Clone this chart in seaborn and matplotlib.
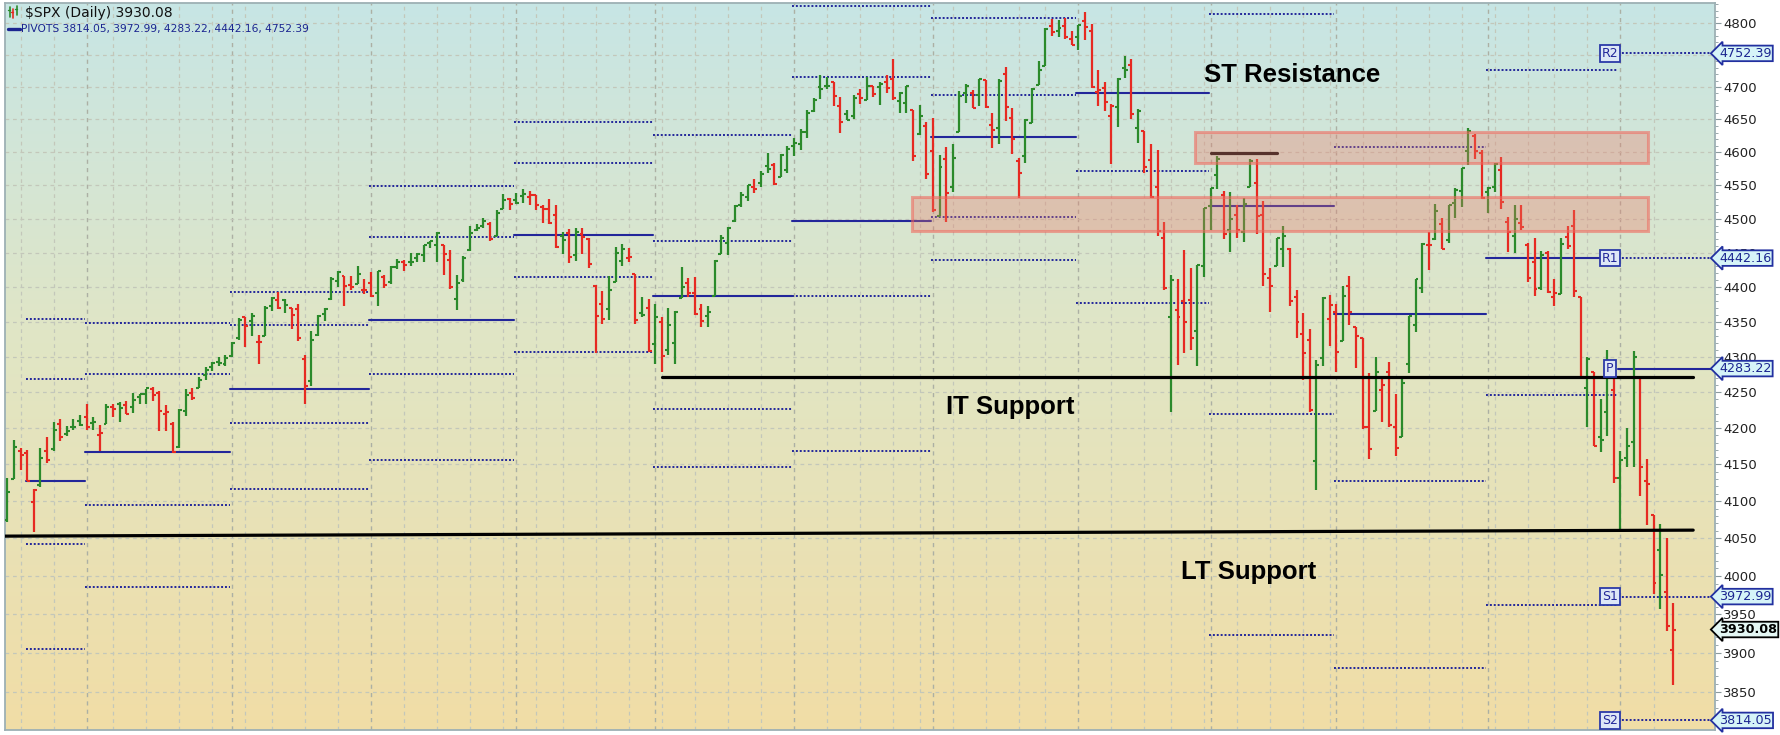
import numpy as np
import pandas as pd
import matplotlib
matplotlib.use("Agg")
import matplotlib.pyplot as plt
import seaborn as sns
from matplotlib.patches import Rectangle
from matplotlib.lines import Line2D
from matplotlib.ticker import FixedLocator, FuncFormatter, NullFormatter
from matplotlib.transforms import blended_transform_factory

# trading days shown on the chart (13 May 2021 .. 12 May 2022)
holidays = ["2021-05-31", "2021-07-05", "2021-09-06", "2021-11-25",
            "2021-12-24", "2022-01-17", "2022-02-21", "2022-04-15"]
dates = pd.bdate_range("2021-05-13", "2022-05-12")
dates = dates[~dates.isin(pd.to_datetime(holidays))]

prev_close = 4063.0  # close before the first bar, sets the first bar colour

# daily OHLC, one line per month
opens = [
    4074, 4130, 4169, 4166, 4099, 4122, 4168, 4171, 4205, 4192, 4201, 4210,
    4216, 4207, 4191, 4206, 4229, 4233, 4232, 4229, 4243, 4248, 4255, 4249, 4220, 4205, 4174, 4224, 4249, 4256, 4274, 4285, 4293, 4290,
    4301, 4326, 4356, 4351, 4321, 4330, 4372, 4381, 4381, 4369, 4368, 4297, 4266, 4331, 4361, 4382, 4409, 4416, 4403, 4404, 4395,
    4406, 4392, 4415, 4408, 4429, 4437, 4436, 4442, 4447, 4464, 4462, 4462, 4440, 4382, 4410, 4454, 4484, 4490, 4493, 4474, 4514, 4529,
    4528, 4534, 4532, 4535, 4518, 4514, 4506, 4474, 4479, 4447, 4477, 4470, 4402, 4375, 4368, 4407, 4438, 4443, 4419, 4363, 4370,
    4318, 4349, 4310, 4319, 4384, 4406, 4391, 4368, 4358, 4387, 4448, 4464, 4497, 4520, 4532, 4547, 4553, 4579, 4580, 4563, 4573,
    4610, 4613, 4631, 4663, 4700, 4701, 4707, 4670, 4659, 4655, 4689, 4680, 4701, 4700, 4708, 4713, 4679, 4675, 4664, 4628, 4640,
    4602, 4504, 4589, 4548, 4631, 4690, 4691, 4687, 4711, 4642, 4637, 4720, 4652, 4587, 4594, 4645, 4703, 4733, 4796, 4788, 4795, 4775,
    4778, 4804, 4787, 4693, 4698, 4655, 4669, 4729, 4734, 4637, 4632, 4588, 4547, 4471, 4357, 4367, 4380, 4381, 4337, 4431,
    4519, 4566, 4536, 4483, 4505, 4480, 4548, 4553, 4506, 4413, 4430, 4455, 4456, 4385, 4332, 4324, 4155, 4298, 4354,
    4364, 4322, 4401, 4343, 4327, 4202, 4224, 4253, 4279, 4202, 4188, 4289, 4345, 4398, 4462, 4470, 4493, 4469, 4523, 4541, 4602, 4624, 4599,
    4540, 4548, 4573, 4495, 4475, 4494, 4462, 4437, 4398, 4449, 4385, 4390, 4473, 4490, 4385, 4256, 4279, 4187, 4223, 4253,
    4131, 4159, 4181, 4270, 4128, 4081, 4035, 3979, 3903,
]
highs = [
    4131, 4183, 4172, 4170, 4117, 4172, 4188, 4209, 4213, 4203, 4213, 4218,
    4234, 4216, 4204, 4233, 4233, 4236, 4238, 4249, 4248, 4255, 4257, 4251, 4232, 4208, 4226, 4255, 4256, 4271, 4286, 4293, 4300, 4302,
    4321, 4355, 4356, 4362, 4331, 4372, 4386, 4393, 4383, 4369, 4376, 4302, 4337, 4360, 4370, 4415, 4423, 4416, 4416, 4430, 4412,
    4422, 4423, 4417, 4430, 4441, 4439, 4449, 4449, 4461, 4468, 4480, 4462, 4454, 4418, 4445, 4489, 4492, 4502, 4495, 4513, 4537, 4531,
    4538, 4545, 4542, 4536, 4521, 4529, 4521, 4481, 4485, 4487, 4486, 4471, 4403, 4394, 4416, 4458, 4463, 4457, 4419, 4385, 4383,
    4376, 4356, 4369, 4365, 4429, 4413, 4415, 4375, 4372, 4440, 4476, 4488, 4520, 4540, 4551, 4560, 4572, 4599, 4584, 4598, 4609,
    4621, 4636, 4664, 4683, 4719, 4715, 4708, 4685, 4664, 4688, 4697, 4715, 4702, 4708, 4718, 4744, 4692, 4702, 4665, 4672, 4646,
    4652, 4596, 4608, 4613, 4694, 4705, 4696, 4713, 4711, 4660, 4712, 4731, 4667, 4591, 4651, 4699, 4740, 4792, 4807, 4805, 4808, 4787,
    4797, 4818, 4798, 4726, 4707, 4673, 4714, 4749, 4744, 4666, 4632, 4612, 4603, 4495, 4418, 4412, 4454, 4428, 4432, 4516,
    4546, 4595, 4542, 4540, 4521, 4531, 4590, 4589, 4527, 4427, 4472, 4490, 4457, 4395, 4363, 4339, 4295, 4385, 4389,
    4375, 4401, 4416, 4343, 4327, 4277, 4300, 4268, 4292, 4247, 4272, 4358, 4412, 4465, 4481, 4522, 4501, 4521, 4546, 4576, 4637, 4627, 4603,
    4548, 4583, 4593, 4503, 4521, 4520, 4464, 4471, 4452, 4453, 4411, 4471, 4489, 4513, 4385, 4300, 4279, 4240, 4309, 4270,
    4169, 4200, 4308, 4270, 4158, 4082, 4069, 4050, 3965,
]
lows = [
    4072, 4130, 4143, 4128, 4058, 4119, 4152, 4168, 4182, 4189, 4198, 4203,
    4197, 4198, 4168, 4206, 4215, 4208, 4219, 4221, 4233, 4234, 4238, 4196, 4196, 4165, 4173, 4217, 4239, 4256, 4267, 4280, 4287, 4287,
    4300, 4324, 4314, 4329, 4289, 4330, 4365, 4368, 4362, 4340, 4323, 4234, 4259, 4330, 4351, 4381, 4400, 4372, 4396, 4404, 4390,
    4385, 4373, 4398, 4405, 4426, 4423, 4430, 4436, 4436, 4457, 4437, 4418, 4397, 4367, 4407, 4453, 4482, 4486, 4468, 4474, 4514, 4513,
    4522, 4524, 4521, 4513, 4494, 4492, 4457, 4448, 4435, 4438, 4448, 4427, 4306, 4347, 4352, 4407, 4430, 4437, 4347, 4356, 4307,
    4289, 4279, 4302, 4289, 4384, 4386, 4360, 4343, 4342, 4387, 4448, 4447, 4496, 4518, 4526, 4539, 4547, 4569, 4551, 4562, 4568,
    4595, 4604, 4621, 4662, 4681, 4697, 4671, 4630, 4649, 4651, 4673, 4680, 4684, 4672, 4690, 4680, 4660, 4660, 4586, 4626, 4560,
    4510, 4504, 4495, 4540, 4631, 4675, 4667, 4670, 4667, 4606, 4612, 4648, 4597, 4531, 4584, 4645, 4703, 4733, 4780, 4778, 4775, 4766,
    4758, 4774, 4699, 4671, 4663, 4582, 4638, 4714, 4650, 4614, 4568, 4531, 4474, 4395, 4223, 4288, 4305, 4309, 4287, 4415,
    4483, 4545, 4470, 4451, 4471, 4466, 4548, 4477, 4402, 4364, 4430, 4429, 4373, 4327, 4267, 4222, 4115, 4287, 4315,
    4279, 4322, 4345, 4284, 4199, 4157, 4224, 4209, 4201, 4162, 4188, 4277, 4335, 4392, 4425, 4469, 4455, 4465, 4501, 4518, 4581, 4589, 4530,
    4508, 4540, 4514, 4451, 4450, 4484, 4408, 4387, 4395, 4392, 4372, 4390, 4455, 4385, 4268, 4201, 4175, 4167, 4189, 4124,
    4063, 4147, 4147, 4107, 4068, 3976, 3957, 3928, 3859,
]
closes = [
    4112.5, 4173.9, 4163.3, 4127.8, 4115.7, 4159.1, 4155.9, 4197.1, 4188.1, 4196.0, 4200.9, 4204.1,
    4202.0, 4208.1, 4192.9, 4229.9, 4226.5, 4227.3, 4219.6, 4239.2, 4247.4, 4255.2, 4246.6, 4223.7, 4221.9, 4166.5, 4224.8, 4246.4, 4241.8, 4266.5, 4280.7, 4290.6, 4291.8, 4297.5,
    4319.9, 4352.3, 4343.5, 4358.1, 4320.8, 4369.6, 4384.6, 4369.2, 4374.3, 4360.0, 4327.2, 4258.5, 4323.1, 4358.7, 4367.5, 4411.8, 4422.3, 4401.5, 4400.6, 4419.2, 4395.3,
    4387.2, 4423.2, 4402.7, 4429.1, 4436.5, 4432.4, 4436.8, 4447.7, 4460.8, 4468.0, 4479.7, 4448.1, 4400.3, 4405.8, 4441.7, 4479.5, 4486.2, 4496.2, 4470.0, 4509.4, 4528.8, 4522.7,
    4524.1, 4537.0, 4535.4, 4520.0, 4514.1, 4493.3, 4458.6, 4468.7, 4443.1, 4480.7, 4473.8, 4433.0, 4357.7, 4354.2, 4395.6, 4449.0, 4455.5, 4443.1, 4352.6, 4359.5, 4307.5,
    4357.0, 4300.5, 4345.7, 4363.6, 4399.8, 4391.3, 4361.2, 4350.7, 4363.8, 4438.3, 4471.4, 4486.5, 4519.6, 4536.2, 4549.8, 4544.9, 4566.5, 4574.8, 4551.7, 4596.4, 4605.4,
    4613.7, 4630.7, 4660.6, 4680.1, 4697.5, 4701.7, 4685.3, 4646.7, 4649.3, 4682.9, 4682.8, 4700.9, 4688.7, 4704.5, 4698.0, 4682.9, 4690.7, 4701.5, 4594.6, 4655.3, 4567.0,
    4513.0, 4577.1, 4538.4, 4591.7, 4686.8, 4701.2, 4667.5, 4712.0, 4669.0, 4634.1, 4709.9, 4668.7, 4620.6, 4568.0, 4649.2, 4696.6, 4725.8, 4791.2, 4786.4, 4793.1, 4778.7, 4766.2,
    4796.6, 4793.5, 4700.6, 4696.1, 4677.0, 4670.3, 4713.1, 4726.4, 4659.0, 4662.9, 4577.1, 4532.8, 4482.7, 4397.9, 4410.1, 4356.5, 4349.9, 4326.5, 4431.9, 4515.6,
    4546.5, 4589.4, 4477.4, 4500.5, 4483.9, 4521.5, 4587.2, 4504.1, 4418.6, 4401.7, 4471.1, 4475.0, 4380.3, 4348.9, 4304.8, 4225.5, 4288.7, 4384.7, 4373.9,
    4306.3, 4386.5, 4363.5, 4328.9, 4201.1, 4170.7, 4277.9, 4259.5, 4204.3, 4173.1, 4262.5, 4357.9, 4411.7, 4463.1, 4461.2, 4511.6, 4456.2, 4520.2, 4543.1, 4575.5, 4631.6, 4602.5, 4530.4,
    4545.9, 4582.6, 4525.1, 4481.2, 4500.2, 4488.3, 4412.5, 4397.5, 4446.6, 4392.6, 4391.7, 4462.2, 4459.5, 4393.7, 4271.8, 4296.1, 4175.2, 4184.0, 4287.5, 4131.9,
    4155.4, 4175.5, 4300.2, 4146.9, 4123.3, 3991.2, 4001.1, 3935.2, 3930.08,
]

# monthly pivot levels (one value per month on the chart)
pivot_months = ["2021-05", "2021-06", "2021-07", "2021-08", "2021-09", "2021-10", "2021-11",
                "2021-12", "2022-01", "2022-02", "2022-03", "2022-04", "2022-05"]
pivot_r2 = [4354.0, 4347.50, 4392.81, 4549.63, 4645.55, 4626.37, 4826.61, 4807.44, 5003.89, 5114.93, 4841.96, 4921.29, 4752.39]
pivot_r1 = [4268.0, 4275.80, 4345.15, 4472.44, 4584.12, 4466.96, 4715.99, 4687.22, 4885.03, 4815.24, 4607.95, 4725.85, 4442.16]
pivot_p = [4128.0, 4166.34, 4254.78, 4352.79, 4475.92, 4386.43, 4497.47, 4623.61, 4690.08, 4518.93, 4361.30, 4441.86, 4283.22]
pivot_s1 = [4042.0, 4094.64, 4207.12, 4275.60, 4414.49, 4227.02, 4386.85, 4503.39, 4571.22, 4219.24, 4127.29, 4246.42, 3972.99]
pivot_s2 = [3905.0, 3985.18, 4116.75, 4155.95, 4306.29, 4146.49, 4168.33, 4439.78, 4376.27, 3922.93, 3880.64, 3962.43, 3814.05]

y_ticks = [3850, 3900, 3950, 4000, 4050, 4100, 4150, 4200, 4250, 4300, 4350,
           4400, 4450, 4500, 4550, 4600, 4650, 4700, 4750, 4800]
hidden_tick_labels = [4750]  # fully covered by the R2 value tag on the chart
last_close = 3930.08

assert len(opens) == len(highs) == len(lows) == len(closes) == len(dates)

# ---- style ----
sns.set_theme(style="white")
plt.rcParams["font.family"] = ["DejaVu Sans"]

W, H = 1781, 735
fig = plt.figure(figsize=(W / 100, H / 100), dpi=100)
pos = [5 / W, 5 / H, 1710 / W, 727 / H]

# background gradient (teal at the top fading to tan at the bottom)
bg = fig.add_axes(pos, zorder=0)
stops = np.array([[199, 229, 229], [224, 230, 198], [241, 221, 166]]) / 255
t = np.linspace(0, 1, 300)
grad = np.empty((300, 2, 3))
for c in range(3):
    grad[:, :, c] = np.interp(t, [0, 0.45, 1], stops[:, c])[:, None]
bg.imshow(grad, aspect="auto", extent=[0, 1, 0, 1])
bg.set_axis_off()

ax = fig.add_axes(pos, zorder=1)
ax.patch.set_visible(False)

x = np.arange(len(dates))
ax.set_xlim(-0.35, 258.3)
ax.set_yscale("log")
ax.set_ylim(3802, 4832)

# grid: dashed weekly/monthly verticals, dashed horizontals at ticks
week = dates.to_series().dt.isocalendar().week.values
for i in range(1, len(dates)):
    if dates[i].month != dates[i - 1].month:
        ax.axvline(i, color="#acb0a4", lw=1.0, ls=(0, (3, 3)), zorder=0.5)
    elif week[i] != week[i - 1]:
        ax.axvline(i, color="#c3c7ba", lw=0.9, ls=(0, (3, 3)), zorder=0.5)
for yt in y_ticks:
    ax.axhline(yt, color="#c3c7ba", lw=0.9, ls=(0, (3, 3)), zorder=0.5)

# pivot lines per month
month_key = dates.strftime("%Y-%m")
navy = "#22269a"
for k, m in enumerate(pivot_months):
    idx = np.where(month_key == m)[0]
    x0 = idx[0] - 0.3 if k > 0 else 2.8
    x1 = idx[-1] + 0.7 if k < len(pivot_months) - 1 else 258.3
    for lvl in (pivot_r2[k], pivot_r1[k], pivot_s1[k], pivot_s2[k]):
        ax.plot([x0, x1], [lvl, lvl], color=navy, lw=1.4, ls=(0, (1, 1)), zorder=1)
    ax.plot([x0, x1], [pivot_p[k], pivot_p[k]], color=navy, lw=1.5, zorder=1)

# OHLC bars
prev = np.concatenate([[prev_close], closes[:-1]])
cols = np.where(np.array(closes) >= prev, "#2b8a2b", "#e62a22")
ax.vlines(x, lows, highs, colors=cols, lw=1.6, zorder=3)
ax.hlines(opens, x - 0.45, x, colors=cols, lw=1.5, zorder=3)
ax.hlines(closes, x, x + 0.45, colors=cols, lw=1.5, zorder=3)

# hand-drawn support / resistance annotations
ax.plot([-0.6, 255], [4053, 4061], color="black", lw=2.3, zorder=4)
ax.plot([99, 255], [4272, 4272], color="black", lw=2.3, zorder=4)
ax.plot([182, 192], [4599.5, 4599.5], color="#111111", lw=2.3, zorder=4)

for (bx0, bx1, by0, by1) in [(179.7, 248.1, 4583.5, 4631.0), (136.9, 248.1, 4482.5, 4532.0)]:
    ax.add_patch(Rectangle((bx0, by0), bx1 - bx0, by1 - by0,
                           facecolor=(0.92, 0.47, 0.40, 0.32),
                           edgecolor=(0.94, 0.40, 0.36, 0.55), lw=2.2, zorder=5))

bold = dict(family="Liberation Sans", weight="bold", fontsize=18.5, color="black",
            va="center", ha="left", zorder=6)
ax.text(181, 4718.6, "ST Resistance", **bold)
ax.text(142, 4230, "IT Support", **bold)
ax.text(177.5, 4006, "LT Support", **bold)

# pivot name tags on the current month
for name, lvl in zip(["R2", "R1", "P", "S1", "S2"],
                     [pivot_r2[-1], pivot_r1[-1], pivot_p[-1], pivot_s1[-1], pivot_s2[-1]]):
    ax.text(242.4, lvl, name, ha="center", va="center", fontsize=9, color=navy, zorder=7,
            bbox=dict(boxstyle="square,pad=0.15", fc="#dde7f6", ec="#2b3aa8", lw=1.3))

# right axis
ax.yaxis.tick_right()
ax.yaxis.set_major_locator(FixedLocator(y_ticks))
ax.yaxis.set_major_formatter(FuncFormatter(
    lambda v, p: "" if round(v) in hidden_tick_labels else f"{v:.0f}"))
ax.yaxis.set_minor_locator(FixedLocator(np.arange(3810, 4831, 10)))
ax.yaxis.set_minor_formatter(NullFormatter())
ax.tick_params(axis="y", which="major", direction="out", length=4, width=0.8,
               color="#8a9a9e", labelsize=9.5, labelcolor="#222222", pad=2)
ax.tick_params(axis="y", which="minor", direction="out", length=2, width=0.6, color="#8a9a9e")
ax.set_xticks([])
for s in ax.spines.values():
    s.set_color("#9db0b4")
    s.set_linewidth(1.3)

# value tags at the right edge
tr = blended_transform_factory(ax.transAxes, ax.transData)
tag_x = 1 + 4 / 1710
for lvl in [pivot_r2[-1], pivot_r1[-1], pivot_p[-1], pivot_s1[-1], pivot_s2[-1]]:
    ax.text(tag_x, lvl, f"{lvl:.2f}", transform=tr, ha="left", va="center", fontsize=9.2,
            color="#1b2590", clip_on=False, zorder=8,
            bbox=dict(boxstyle="larrow,pad=0.1", fc="#d6f4f8", ec="#2230a0", lw=1.3))
ax.text(tag_x, last_close, f"{last_close:.2f}", transform=tr, ha="left", va="center",
        fontsize=9.2, fontweight="bold", color="black", clip_on=False, zorder=8,
        bbox=dict(boxstyle="larrow,pad=0.1", fc="#e4f7f4", ec="black", lw=1.3))

# legend lines at top-left
def fx(px):
    return px / W


def fy(py):
    return 1 - py / H


for xx, y0, y1, c in [(10, 7, 17, "#2b8a2b"), (13, 9, 18, "#e62a22"), (17, 6, 15, "#2b8a2b")]:
    fig.add_artist(Line2D([fx(xx), fx(xx)], [fy(y0), fy(y1)], color=c, lw=1.2))
    fig.add_artist(Line2D([fx(xx - 2), fx(xx)], [fy(y0 + 3), fy(y0 + 3)], color=c, lw=1))
fig.add_artist(Line2D([fx(8), fx(20)], [fy(29), fy(29)], color="#1b2590", lw=2.4))
fig.text(fx(25), fy(13), "$SPX (Daily) 3930.08", fontsize=10, color="#111111", va="center")
fig.text(fx(21.5), fy(29), "PIVOTS 3814.05, 3972.99, 4283.22, 4442.16, 4752.39",
         fontsize=7.7, color="#1b2590", va="center")

fig.savefig("out.png", dpi=100)
